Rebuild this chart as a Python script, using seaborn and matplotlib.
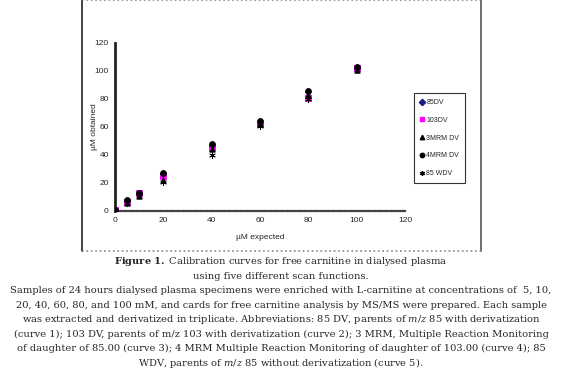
import pandas as pd
import matplotlib.pyplot as plt
import seaborn as sns
from matplotlib.lines import Line2D

# 数据
conc = [0, 5, 10, 20, 40, 60, 80, 100]
dv85 = [0.5, 7, 12, 26, 46, 63, 82, 102]
dv103 = [1, 6.5, 12.5, 25, 45, 62, 81, 102]
mrm3 = [0.5, 6, 11, 22, 44, 62, 83, 101]
mrm4 = [1, 8, 12.5, 27, 47.5, 64, 86, 103]
wdv85 = [0.5, 5.5, 11, 21, 40, 61, 80, 101]
series_names = ['85DV', '103DV', '3MRM DV', '4MRM DV', '85 WDV']

rows = []
for name, vals in zip(series_names, [dv85, dv103, mrm3, mrm4, wdv85]):
    for x, y in zip(conc, vals):
        rows.append({'expected': x, 'obtained': y, 'scan': name})
df = pd.DataFrame(rows)

sns.set_style('white')
plt.rcParams['font.family'] = ['Liberation Sans', 'DejaVu Sans']
plt.rcParams['mathtext.fontset'] = 'custom'
plt.rcParams['mathtext.rm'] = 'DejaVu Serif'
plt.rcParams['mathtext.it'] = 'DejaVu Serif:italic'
plt.rcParams['mathtext.bf'] = 'DejaVu Serif:bold'

colors = {'85DV': '#1a1a8c', '103DV': '#ff00ff', '3MRM DV': 'black',
          '4MRM DV': 'black', '85 WDV': 'black'}
markers = {'85DV': 'D', '103DV': 's', '3MRM DV': '^', '4MRM DV': 'o', '85 WDV': (6, 2, 0)}
sizes = {'85DV': 11, '103DV': 13, '3MRM DV': 15, '4MRM DV': 18, '85 WDV': 18}

fig = plt.figure(figsize=(5.62, 3.69), dpi=100)
ax = fig.add_axes([0.2046, 0.4282, 0.516, 0.4553])

for name in series_names:
    sub = df[df['scan'] == name]
    sns.scatterplot(data=sub, x='expected', y='obtained', ax=ax, color=colors[name],
                    marker=markers[name], s=sizes[name], edgecolor=colors[name],
                    linewidth=0.6, legend=False, zorder=3)

ax.set_xlim(0, 120)
ax.set_ylim(0, 120)
ax.set_xticks(range(0, 121, 20))
ax.set_yticks(range(0, 121, 20))
ax.tick_params(direction='inout', length=5, width=1, labelsize=6, color='black', pad=2)
for s in ['top', 'right']:
    ax.spines[s].set_visible(False)
ax.spines['left'].set_linewidth(2)
ax.spines['left'].set_color('#222222')
ax.spines['bottom'].set_linewidth(1.6)
ax.spines['bottom'].set_color('#444444')
ax.spines['bottom'].set_linestyle((0, (2, 0.6)))
ax.set_xlabel('µM expected', fontsize=6, labelpad=7)
ax.set_ylabel('µM obtained', fontsize=6, labelpad=0)
ax.yaxis.set_label_coords(-0.06, 0.5)

# 图例
handles = [Line2D([], [], linestyle='none', marker=markers[n], color=colors[n],
                  markersize=3.2) for n in series_names]
leg = fig.legend(handles, series_names, loc='upper left',
                 bbox_to_anchor=(411 / 562, 1 - 90 / 369), fontsize=5,
                 frameon=True, fancybox=False, edgecolor='black', labelspacing=1.55,
                 handlelength=0.6, handletextpad=0.3, borderpad=0.8)
leg.get_frame().set_linewidth(0.8)

# 外框
fl, fr, ft, fb = 82 / 562, 481 / 562, 0.999, 1 - 251 / 369
fig.add_artist(Line2D([fl, fl], [fb, ft], color='#222222', lw=1.2, transform=fig.transFigure))
fig.add_artist(Line2D([fr, fr], [fb, ft], color='#555555', lw=1.2, transform=fig.transFigure))
fig.add_artist(Line2D([fl, fr], [ft, ft], color='#888888', lw=1.2, ls=':', transform=fig.transFigure))
fig.add_artist(Line2D([fl, fr], [fb, fb], color='#888888', lw=1.2, ls=':', transform=fig.transFigure))

# 图注
serif = ['DejaVu Serif']
lines = [
    'using five different scan functions.',
    'Samples of 24 hours dialysed plasma specimens were enriched with L-carnitine at concentrations of  5, 10,',
    '20, 40, 60, 80, and 100 mM, and cards for free carnitine analysis by MS/MS were prepared. Each sample',
    'was extracted and derivatized in triplicate. Abbreviations: 85 DV, parents of $m/z$ 85 with derivatization',
    '(curve 1); 103 DV, parents of m/z 103 with derivatization (curve 2); 3 MRM, Multiple Reaction Monitoring',
    'of daughter of 85.00 (curve 3); 4 MRM Multiple Reaction Monitoring of daughter of 103.00 (curve 4); 85',
    'WDV, parents of $m/z$ 85 without derivatization (curve 5).',
]
y0 = 262
fig.text(0.5, 1 - y0 / 369, r'$\mathbf{Figure\ 1.}$ Calibration curves for free carnitine in dialysed plasma',
         ha='center', va='center', fontsize=7.1, family=serif)
for i, t in enumerate(lines):
    fig.text(0.5, 1 - (y0 + 14.4 * (i + 1)) / 369, t, ha='center', va='center',
             fontsize=7.1, family=serif)

fig.savefig('out.png', dpi=100)
